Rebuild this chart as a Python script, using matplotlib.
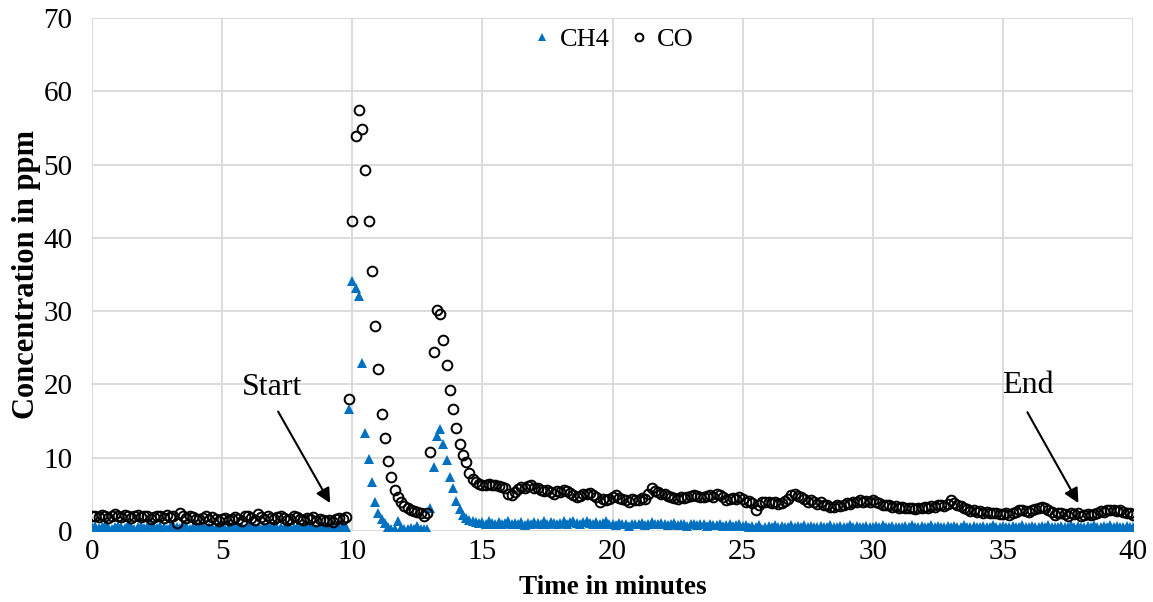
import numpy as np
import matplotlib.pyplot as plt

plt.rcParams['font.family'] = ['Liberation Serif', 'DejaVu Serif']

# sampling every 7.5 s (0.125 min), 0 .. 40 min
step = 0.125

# CO readings, one row per minute (8 samples per row)
co = [
    2.0, 2.1, 1.9, 2.2, 2.0, 1.8, 2.1, 2.3,
    2.0, 1.9, 2.2, 2.1, 1.8, 2.0, 2.2, 1.9,
    2.1, 2.0, 1.7, 1.9, 2.1, 2.0, 1.8, 2.2,
    1.9, 2.0, 1.1, 2.5, 2.0, 1.8, 2.1, 1.9,
    1.7, 1.6, 1.8, 2.0, 1.5, 1.9, 1.7, 1.4,
    1.6, 1.8, 1.5, 1.7, 1.9, 1.6, 1.4, 2.0,
    2.1, 1.8, 1.5, 2.3, 1.9, 1.7, 2.0, 1.8,
    1.6, 1.9, 2.1, 1.8, 1.5, 1.7, 2.0, 1.9,
    1.7, 1.5, 1.8, 1.6, 1.9, 1.4, 1.6, 1.5,
    1.3, 1.5, 1.2, 1.6, 1.8, 1.7, 1.9, 18.0,
    42.3, 53.9, 57.4, 54.8, 49.2, 42.3, 35.5, 28.0,
    22.1, 16.0, 12.7, 9.5, 7.4, 5.6, 4.6, 4.0,
    3.4, 3.1, 2.9, 2.7, 2.6, 2.5, 2.0, 2.5,
    10.8, 24.4, 30.1, 29.6, 26.0, 22.6, 19.3, 16.6,
    14.0, 11.9, 10.3, 9.4, 7.9, 7.1, 6.7, 6.4,
    6.3, 6.3, 6.4, 6.3, 6.3, 6.2, 6.0, 5.8,
    5.1, 4.9, 5.3, 5.7, 6.0, 5.9, 6.2, 6.3,
    5.8, 5.9, 5.6, 5.5, 5.6, 5.3, 5.1, 5.4,
    5.3, 5.6, 5.5, 5.2, 4.9, 4.7, 4.8, 5.1,
    5.0, 5.2, 4.9, 4.6, 4.0, 4.4, 4.2, 4.4,
    4.6, 4.9, 4.5, 4.3, 4.2, 4.0, 4.4, 4.2,
    4.2, 4.5, 4.4, 5.0, 5.8, 5.5, 5.3, 5.1,
    5.0, 4.8, 4.7, 4.5, 4.4, 4.6, 4.5, 4.7,
    4.8, 4.9, 4.8, 4.7, 4.6, 4.8, 4.9, 4.7,
    5.1, 4.9, 4.6, 4.2, 4.4, 4.5, 4.3, 4.7,
    4.3, 4.0, 4.1, 3.8, 2.9, 3.6, 4.0, 3.9,
    4.0, 3.8, 3.9, 3.7, 3.8, 4.1, 4.4, 4.9,
    5.1, 4.8, 4.6, 4.3, 4.0, 4.2, 3.9, 3.7,
    3.9, 3.6, 3.5, 3.3, 3.3, 3.5, 3.4, 3.6,
    3.8, 3.7, 4.0, 3.9, 4.2, 4.0, 4.1, 3.9,
    4.2, 3.9, 3.8, 3.6, 3.5, 3.6, 3.3, 3.4,
    3.2, 3.3, 3.1, 3.2, 3.2, 3.0, 3.1, 3.2,
    3.3, 3.1, 3.4, 3.3, 3.6, 3.5, 3.4, 3.7,
    4.2, 3.8, 3.6, 3.4, 3.2, 3.0, 2.7, 2.8,
    2.6, 2.7, 2.5, 2.6, 2.4, 2.5, 2.4, 2.3,
    2.3, 2.4, 2.2, 2.5, 2.6, 2.8, 2.9, 2.7,
    2.6, 2.8, 3.0, 3.1, 3.3, 3.2, 2.9, 2.6,
    2.2, 2.4, 2.5, 2.3, 2.1, 2.4, 2.3, 2.5,
    2.1, 2.2, 2.3, 2.2, 2.3, 2.5, 2.7, 2.6,
    2.9, 2.8, 2.9, 2.7, 2.8, 2.6, 2.5, 2.4,
    2.2,
]

# CH4 readings, same layout
ch4 = [
    0.5, 0.7, 0.4, 0.6, 0.8, 0.5, 0.3, 0.6,
    0.7, 0.5, 0.4, 0.8, 0.6, 0.3, 0.5, 0.7,
    0.4, 0.6, 0.9, 0.5, 0.4, 0.7, 0.6, 0.3,
    0.5, 0.8, 0.6, 0.4, 0.5, 0.7, 0.2, 0.6,
    0.4, 0.5, 0.7, 0.3, 0.6, 0.5, 0.4, 0.8,
    0.6, 0.3, 0.5, 0.7, 0.4, 0.6, 0.5, 0.3,
    0.5, 0.8, 0.4, 0.6, 0.3, 0.5, 0.7, 0.4,
    0.6, 0.4, 0.5, 0.3, 0.7, 0.5, 0.4, 0.6,
    0.3, 0.5, 0.6, 0.4, 0.5, 0.3, 0.6, 0.4,
    0.5, 0.3, 0.4, 0.6, 0.5, 0.7, 0.6, 16.7,
    34.1, 33.2, 32.1, 22.9, 13.4, 9.8, 6.7, 4.0,
    2.5, 1.6, 1.1, 0.6, 0.3, 0.2, 1.4, 0.4,
    0.3, 0.2, 0.4, 0.3, 0.7, 0.2, 0.3, 0.2,
    3.1, 8.7, 12.9, 13.9, 11.9, 9.7, 7.4, 5.8,
    4.1, 3.0, 2.2, 1.8, 1.5, 1.3, 1.2, 1.1,
    1.2, 1.0, 1.3, 1.1, 0.9, 1.2, 1.0, 1.1,
    1.3, 0.9, 1.1, 1.0, 1.2, 0.8, 1.1, 1.0,
    1.2, 1.1, 0.9, 1.3, 1.0, 1.2, 1.1, 0.9,
    1.1, 1.3, 1.0, 1.2, 1.4, 1.1, 1.0, 1.2,
    1.3, 1.1, 1.0, 1.2, 0.9, 1.1, 1.3, 1.0,
    1.0, 0.8, 1.1, 0.9, 1.0, 0.7, 0.9, 1.0,
    0.9, 1.1, 0.8, 1.0, 1.2, 1.0, 0.9, 1.1,
    1.0, 0.8, 0.9, 1.1, 0.8, 1.0, 0.9, 0.7,
    0.9, 1.0, 0.8, 0.9, 1.0, 0.7, 0.9, 0.8,
    0.8, 0.9, 0.7, 0.8, 1.0, 0.7, 0.8, 0.9,
    0.7, 0.8, 0.6, 0.7, 0.5, 0.8, 0.3, 0.6,
    0.7, 0.5, 0.8, 0.6, 0.7, 0.5, 0.6, 0.8,
    0.6, 0.7, 0.5, 0.8, 0.6, 0.7, 0.5, 0.6,
    0.7, 0.5, 0.6, 0.8, 0.5, 0.6, 0.7, 0.5,
    0.6, 0.8, 0.5, 0.7, 0.6, 0.5, 0.7, 0.6,
    0.5, 0.7, 0.6, 0.8, 0.5, 0.6, 0.7, 0.5,
    0.6, 0.5, 0.7, 0.6, 0.8, 0.5, 0.6, 0.7,
    0.5, 0.6, 0.8, 0.5, 0.7, 0.6, 0.5, 0.7,
    0.6, 0.7, 0.5, 0.6, 0.8, 0.6, 0.5, 0.7,
    0.5, 0.6, 0.7, 0.5, 0.6, 0.8, 0.6, 0.5,
    0.7, 0.5, 0.6, 0.7, 0.5, 0.6, 0.8, 0.6,
    0.5, 0.7, 0.6, 0.5, 0.7, 0.6, 0.8, 0.5,
    0.6, 0.5, 0.7, 0.6, 0.5, 0.8, 0.6, 0.7,
    0.5, 0.6, 0.7, 0.5, 0.8, 0.6, 0.5, 0.7,
    0.6, 0.8, 0.5, 0.7, 0.6, 0.5, 0.7, 0.6,
    0.6,
]

t = np.arange(len(co)) * step

fig = plt.figure(figsize=(11.53, 6.02), dpi=100)
ax = fig.add_axes([0.0798, 0.118, 0.9029, 0.852])

ax.plot(t, ch4, linestyle='none', marker='^', markersize=7.2,
        color='#0070C0', markeredgewidth=0, label='CH4', zorder=3)
ax.plot(t, co, linestyle='none', marker='o', markersize=7.0,
        markerfacecolor='none', markeredgecolor='black',
        markeredgewidth=1.4, label='CO', zorder=4)

ax.set_xlim(0, 40)
ax.set_ylim(0, 70)
ax.set_xticks(np.arange(0, 41, 5))
ax.set_yticks(np.arange(0, 71, 10))
ax.grid(True, color='#D9D9D9', linewidth=1.3, zorder=0)
ax.set_axisbelow(True)
for s in ax.spines.values():
    s.set_visible(False)
ax.tick_params(length=0, labelsize=21)
ax.tick_params(axis='x', pad=6)
ax.tick_params(axis='y', pad=14)

ax.set_xlabel('Time in minutes', fontsize=19.5, fontweight='bold', labelpad=7)
ax.set_ylabel('Concentration in ppm', fontsize=22, fontweight='bold', labelpad=2)

leg = ax.legend(loc='upper center', bbox_to_anchor=(0.5, 1.012), ncol=2,
                frameon=False, fontsize=19, handlelength=0.8,
                handletextpad=0.3, columnspacing=0.7, markerscale=0.8,
                borderpad=0.1)

# Start / End annotations
ax.text(6.92, 19.6, 'Start', fontsize=23, ha='center', va='center')
ax.annotate('', xy=(9.15, 3.8), xytext=(7.15, 16.3),
            arrowprops=dict(arrowstyle='-|>', color='black', lw=1.5,
                            mutation_scale=22, shrinkA=0, shrinkB=0))
ax.text(35.97, 19.8, 'End', fontsize=23, ha='center', va='center')
ax.annotate('', xy=(37.9, 3.8), xytext=(35.94, 16.2),
            arrowprops=dict(arrowstyle='-|>', color='black', lw=1.5,
                            mutation_scale=22, shrinkA=0, shrinkB=0))

fig.savefig('out.png', dpi=100)
